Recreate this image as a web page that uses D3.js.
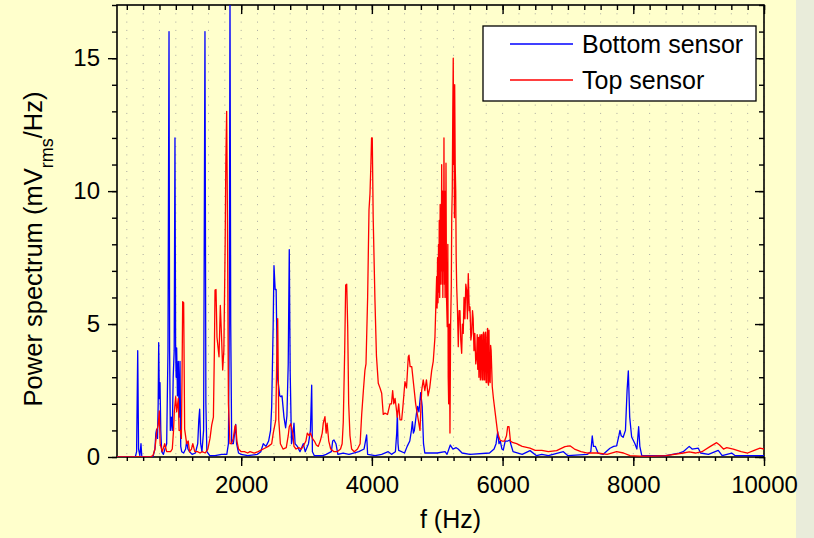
<!DOCTYPE html>
<html>
<head>
<meta charset="utf-8">
<script src="https://cdn.jsdelivr.net/npm/d3@7"></script>
<style>
    body { margin: 0; background: #ffffcc; }
    svg { display: block; }
    .axis path, .axis line { stroke: #000; stroke-width: 1.4; }
    .axis text { font-family: Arial, "Liberation Sans", sans-serif; font-size: 24px; fill: #000; }
    .label { font-family: Arial, "Liberation Sans", sans-serif; font-size: 25px; fill: #000; }
</style>
</head>
<body>
<div id="chart"></div>
<script>
// Bottom sensor spectrum, [f (Hz), mVrms/Hz]
let bottomSensor = [[100,0],[380,0],[400,0.2],[417,4.0],[430,0.3],[450,0.05],[467,0.5],[480,0],[650,0],[680,0.3],[695,0.9],[707,1.05],[720,0.7],[730,2],[738,4.3],[748,2.2],[758,2.8],[770,1.0],[784,0.2],[810,0.1],[834,0.3],[860,0.5],[880,4],[896,16],[905,4],[916,1.0],[930,1.5],[946,1.0],[960,3],[975,4],[987,12],[997,4.15],[1005,3],[1013,4.1],[1025,2.3],[1038,3.6],[1050,1.5],[1064,3.6],[1075,0.4],[1090,0.2],[1120,0.15],[1150,0.3],[1166,0.6],[1185,0.3],[1210,0.2],[1250,0.1],[1300,0.15],[1335,0.5],[1352,1.4],[1365,1.8],[1380,0.5],[1400,0.2],[1425,1],[1446,16],[1460,2],[1475,0.2],[1520,0.05],[1600,0.05],[1700,0.1],[1780,0.1],[1805,0.5],[1818,5],[1829,17.5],[1840,5],[1855,0.5],[1880,0.5],[1900,0.9],[1916,1.23],[1930,0.5],[1960,0.15],[2000,0.1],[2100,0.05],[2250,0.1],[2300,0.2],[2338,0.5],[2380,0.4],[2420,0.6],[2450,1.0],[2467,1.9],[2490,5],[2502,7.2],[2520,6.3],[2535,6.3],[2555,3],[2568,2.77],[2590,2.3],[2605,2.27],[2625,2.3],[2655,1.5],[2680,1.1],[2700,1.55],[2720,3.5],[2736,7.8],[2750,3.2],[2770,0.5],[2790,0.8],[2808,1.27],[2825,0.5],[2860,0.4],[2900,0.2],[2950,0.5],[2980,0.2],[3030,0.5],[3060,1],[3079,2.7],[3090,0.2],[3120,0.05],[3250,0.05],[3300,0.1],[3380,0.2],[3400,0.6],[3420,0.64],[3450,0.5],[3480,0.1],[3560,0.15],[3650,0.1],[3720,0.15],[3800,0.2],[3880,0.3],[3920,0.83],[3935,0.1],[4050,0.05],[4150,0.1],[4250,0.2],[4300,0.1],[4360,0.2],[4380,0.9],[4390,1.64],[4400,0.5],[4410,0.25],[4500,0.15],[4540,0.4],[4580,0.6],[4605,1.0],[4620,1.33],[4635,0.9],[4650,1.0],[4680,1.6],[4700,1.9],[4720,1.7],[4747,2.42],[4770,1.9],[4790,0.5],[4810,0.15],[5000,0.15],[5120,0.2],[5150,0.1],[5200,0.45],[5240,0.3],[5290,0.35],[5320,0.3],[5380,0.15],[5500,0.1],[5800,0.15],[5870,0.3],[5900,0.5],[5925,0.95],[5945,0.5],[5965,0.6],[5990,0.3],[6010,0.26],[6040,0.6],[6080,0.6],[6110,0.64],[6130,0.45],[6160,0.2],[6300,0.1],[6420,0.24],[6520,0.05],[6600,0.1],[6700,0.05],[6930,0.2],[7000,0.05],[7300,0.1],[7350,0.2],[7372,0.79],[7390,0.4],[7420,0.4],[7460,0.15],[7540,0.1],[7643,0.33],[7700,0.4],[7745,0.42],[7780,0.8],[7796,1.0],[7815,0.8],[7845,0.74],[7880,1.0],[7905,2.5],[7924,3.24],[7945,1.5],[7975,0.75],[8025,0.5],[8055,0.3],[8082,1.14],[8100,0.4],[8130,0.05],[8500,0.05],[8700,0.15],[8764,0.2],[8856,0.4],[8900,0.3],[8995,0.33],[9030,0.15],[9150,0.1],[9300,0.25],[9360,0.05],[9505,0.15],[9560,0.05],[10000,0.05]];

// Top sensor spectrum, [f (Hz), mVrms/Hz]
let topSensor = [[100,0],[600,0],[650,0.05],[681,0.3],[710,1.0],[730,1.2],[747,1.73],[760,0.5],[793,0.2],[830,0.5],[860,0.2],[920,0.2],[946,0.3],[965,1.0],[977,1.7],[998,2.27],[1013,1.7],[1038,2.2],[1050,1.0],[1070,1.0],[1085,0.7],[1095,3],[1105,5.84],[1120,5.8],[1135,1.05],[1166,0.5],[1190,0.6],[1210,0.2],[1240,0.3],[1260,0.5],[1290,0.2],[1330,0.2],[1370,0.15],[1400,0.2],[1450,0.15],[1490,0.3],[1523,0.7],[1549,1.2],[1575,1.5],[1590,4],[1600,6.28],[1615,6.3],[1630,4.5],[1661,3.77],[1681,5.7],[1700,4.5],[1717,3.27],[1735,4],[1755,8],[1765,11],[1778,13],[1790,9],[1805,2],[1829,0.5],[1850,0.5],[1880,0.7],[1905,1.15],[1916,1.2],[1935,0.6],[1960,0.3],[2000,0.2],[2050,0.2],[2100,0.15],[2135,0.2],[2200,0.15],[2260,0.2],[2338,0.3],[2415,0.4],[2467,0.5],[2491,0.9],[2530,1.4],[2543,3.52],[2559,5.2],[2575,1.4],[2600,0.5],[2640,0.3],[2690,0.35],[2720,0.8],[2736,1.14],[2758,1.25],[2790,0.9],[2808,0.4],[2840,0.3],[2880,0.35],[2920,0.3],[2960,0.45],[2990,0.6],[3012,0.9],[3040,0.8],[3060,0.9],[3090,0.7],[3120,0.6],[3150,0.45],[3180,0.4],[3210,0.6],[3240,0.9],[3256,1.27],[3282,1.52],[3300,0.9],[3315,1.27],[3340,0.6],[3370,0.3],[3420,0.2],[3470,0.2],[3520,0.3],[3545,0.5],[3562,1.3],[3584,4.0],[3599,6.47],[3615,6.5],[3630,4.9],[3645,2.0],[3665,0.8],[3690,0.3],[3730,0.2],[3780,0.3],[3820,0.5],[3844,1.6],[3870,2.5],[3894,3.27],[3910,3.5],[3935,6],[3956,9.3],[3971,9.9],[3985,11],[3995,12],[4006,12],[4020,9],[4047,5.9],[4070,3.8],[4098,2.77],[4124,2.6],[4150,2.4],[4174,1.6],[4200,1.65],[4240,1.6],[4277,2.0],[4300,2.0],[4318,2.5],[4335,2.0],[4355,2.2],[4370,1.9],[4389,1.5],[4410,2.0],[4430,1.4],[4456,1.4],[4475,1.9],[4506,2.83],[4530,2.6],[4557,3.77],[4568,3.83],[4585,3.4],[4610,3.4],[4640,2.7],[4670,2.0],[4685,1.77],[4710,1.4],[4736,1.0],[4762,2.5],[4786,2.9],[4810,2.5],[4835,2.9],[4860,2.3],[4885,2.6],[4915,3.25],[4939,3.6],[4965,4.5],[4991,6.78],[4998,5.6],[5005,7.5],[5012,5.8],[5020,8],[5026,6.2],[5031,8.9],[5038,6.0],[5045,9.5],[5050,6.5],[5055,9],[5062,7],[5068,11],[5074,6.5],[5080,10],[5086,6],[5092,10],[5098,7],[5103,12],[5109,6.5],[5115,10],[5120,6],[5125,9],[5130,7],[5134,11.05],[5142,6],[5153,4.9],[5162,8],[5168,3],[5175,2.0],[5185,5],[5195,0.9],[5205,5],[5215,6.4],[5222,9],[5230,10],[5238,13],[5245,15],[5252,11],[5258,12],[5263,9],[5267,14],[5275,11],[5283,10],[5290,7.5],[5298,6.4],[5310,5.5],[5322,4.15],[5335,5.5],[5348,5.5],[5360,4.4],[5374,3.9],[5385,5],[5398,4.65],[5410,6],[5424,5.2],[5437,6.5],[5450,6.28],[5462,5.2],[5475,6.9],[5490,5.5],[5501,5.65],[5515,4.4],[5527,4.65],[5540,5.5],[5550,5.2],[5562,4.0],[5575,4.65],[5590,3.5],[5603,3.77],[5612,4.6],[5620,3.3],[5630,4.5],[5638,3.0],[5645,4.4],[5655,4.6],[5660,2.9],[5665,3.0],[5672,4.5],[5680,4.6],[5688,2.9],[5695,2.9],[5702,4.6],[5710,4.7],[5718,2.9],[5725,2.9],[5732,4.6],[5740,4.7],[5748,2.8],[5755,2.8],[5763,4.5],[5771,4.84],[5778,2.8],[5785,2.7],[5792,4.77],[5800,2.9],[5810,2.8],[5817,4.2],[5825,4.0],[5842,2.64],[5860,2.2],[5894,1.52],[5925,0.9],[5960,0.64],[5990,0.6],[6030,0.6],[6060,0.8],[6078,1.14],[6098,1.14],[6120,0.6],[6150,0.55],[6215,0.5],[6300,0.4],[6419,0.33],[6500,0.25],[6600,0.25],[6700,0.2],[6827,0.24],[6954,0.39],[7031,0.42],[7100,0.3],[7200,0.2],[7300,0.15],[7450,0.15],[7600,0.1],[7745,0.2],[7850,0.15],[7950,0.05],[8100,0.03],[8300,0.03],[8500,0.05],[8764,0.15],[8856,0.19],[8950,0.15],[9050,0.2],[9173,0.39],[9275,0.54],[9320,0.45],[9380,0.3],[9430,0.35],[9530,0.3],[9650,0.2],[9750,0.15],[9850,0.25],[9938,0.33],[10000,0.3]];

let xMajorTicks = [2000, 4000, 6000, 8000, 10000];
let yMajorTicks = [0, 5, 10, 15];
let seriesNames = ["Bottom sensor", "Top sensor"];
let seriesColors = ["#0000ff", "#ff0000"];

let width = 814, height = 538;
let plotLeft = 117, plotRight = 764, plotTop = 5, plotBottom = 457;

let svg = d3.select("#chart").append("svg")
    .attr("width", width)
    .attr("height", height);

svg.append("rect").attr("width", width).attr("height", height).attr("fill", "#ffffcc");
svg.append("rect").attr("x", 796).attr("width", width - 796).attr("height", height).attr("fill", "#e9ecda");

let x = d3.scaleLinear().domain([100, 10000]).range([plotLeft, plotRight]);
let y = d3.scaleLinear().domain([0, 17]).range([plotBottom, plotTop]);

let xMinor = d3.range(250, 10001, 250);
let yMinor = d3.range(0, 17.01, 1);

// dotted vertical grid
svg.append("g")
    .selectAll("line")
    .data(xMinor)
    .enter().append("line")
    .attr("x1", d => x(d)).attr("x2", d => x(d))
    .attr("y1", plotTop).attr("y2", plotBottom)
    .attr("stroke", "#a8a8a0")
    .attr("stroke-width", 1)
    .attr("stroke-dasharray", "1,7.3");

// frame under the curves so the red baseline shows on the x axis
svg.append("rect")
    .attr("x", plotLeft).attr("y", plotTop)
    .attr("width", plotRight - plotLeft).attr("height", plotBottom - plotTop)
    .attr("fill", "none").attr("stroke", "#000").attr("stroke-width", 1.6);

svg.append("clipPath").attr("id", "plotClip")
    .append("rect").attr("x", plotLeft).attr("y", plotTop).attr("width", plotRight - plotLeft).attr("height", plotBottom - plotTop);

let line = d3.line()
    .x(d => x(d[0]))
    .y(d => y(d[1]));

[bottomSensor, topSensor].forEach((series, i) => {
    svg.append("path")
        .datum(series)
        .attr("clip-path", "url(#plotClip)")
        .attr("fill", "none")
        .attr("stroke", seriesColors[i])
        .attr("stroke-width", 1.3)
        .attr("stroke-linejoin", "round")
        .attr("d", line);
});

// bottom axis, ticks outward
svg.append("g").attr("class", "axis")
    .attr("transform", "translate(0," + plotBottom + ")")
    .call(d3.axisBottom(x).tickValues(xMinor).tickSize(4).tickFormat(""))
    .call(g => g.select(".domain").remove());
svg.append("g").attr("class", "axis")
    .attr("transform", "translate(0," + plotBottom + ")")
    .call(d3.axisBottom(x).tickValues(xMajorTicks).tickSize(9).tickSizeOuter(0).tickPadding(10).tickFormat(d3.format("d")))
    .call(g => g.select(".domain").remove());

// top axis, ticks inward
svg.append("g").attr("class", "axis")
    .attr("transform", "translate(0," + plotTop + ")")
    .call(d3.axisBottom(x).tickValues(xMinor).tickSize(5).tickFormat(""))
    .call(g => g.select(".domain").remove());
svg.append("g").attr("class", "axis")
    .attr("transform", "translate(0," + plotTop + ")")
    .call(d3.axisBottom(x).tickValues(xMajorTicks).tickSize(9).tickSizeOuter(0).tickFormat(""))
    .call(g => g.select(".domain").remove());

// left axis, ticks outward
svg.append("g").attr("class", "axis")
    .attr("transform", "translate(" + plotLeft + ",0)")
    .call(d3.axisLeft(y).tickValues(yMinor).tickSize(5).tickFormat(""))
    .call(g => g.select(".domain").remove());
svg.append("g").attr("class", "axis")
    .attr("transform", "translate(" + plotLeft + ",0)")
    .call(d3.axisLeft(y).tickValues(yMajorTicks).tickSize(9).tickSizeOuter(0).tickPadding(8).tickFormat(d3.format("d")))
    .call(g => g.select(".domain").remove());

// right axis, ticks inward
svg.append("g").attr("class", "axis")
    .attr("transform", "translate(" + plotRight + ",0)")
    .call(d3.axisLeft(y).tickValues(yMinor).tickSize(5).tickFormat(""))
    .call(g => g.select(".domain").remove());
svg.append("g").attr("class", "axis")
    .attr("transform", "translate(" + plotRight + ",0)")
    .call(d3.axisLeft(y).tickValues(yMajorTicks).tickSize(9).tickSizeOuter(0).tickFormat(""))
    .call(g => g.select(".domain").remove());

// axis titles
svg.append("text").attr("class", "label")
    .attr("x", (plotLeft + plotRight) / 2 + 10).attr("y", 528)
    .attr("text-anchor", "middle")
    .text("f (Hz)");

let yLabel = svg.append("text").attr("class", "label")
    .attr("transform", "translate(42," + 249 + ") rotate(-90)")
    .attr("text-anchor", "middle")
    .style("font-size", "25.5px");
yLabel.append("tspan").text("Power spectrum (mV");
yLabel.append("tspan").attr("font-size", 18).attr("dy", 11).text("rms");
yLabel.append("tspan").attr("dy", -11).text("/Hz)");

// legend
let legend = svg.append("g");
legend.append("rect")
    .attr("x", 483).attr("y", 26).attr("width", 273).attr("height", 75)
    .attr("fill", "#fff").attr("stroke", "#000").attr("stroke-width", 1.3);
seriesNames.forEach((name, i) => {
    let ly = 44 + i * 36;
    legend.append("line")
        .attr("x1", 510).attr("x2", 573).attr("y1", ly).attr("y2", ly)
        .attr("stroke", seriesColors[i]).attr("stroke-width", 1.3);
    legend.append("text").attr("class", "label")
        .attr("x", 582).attr("y", ly + 9)
        .text(name);
});
</script>
</body>
</html>
